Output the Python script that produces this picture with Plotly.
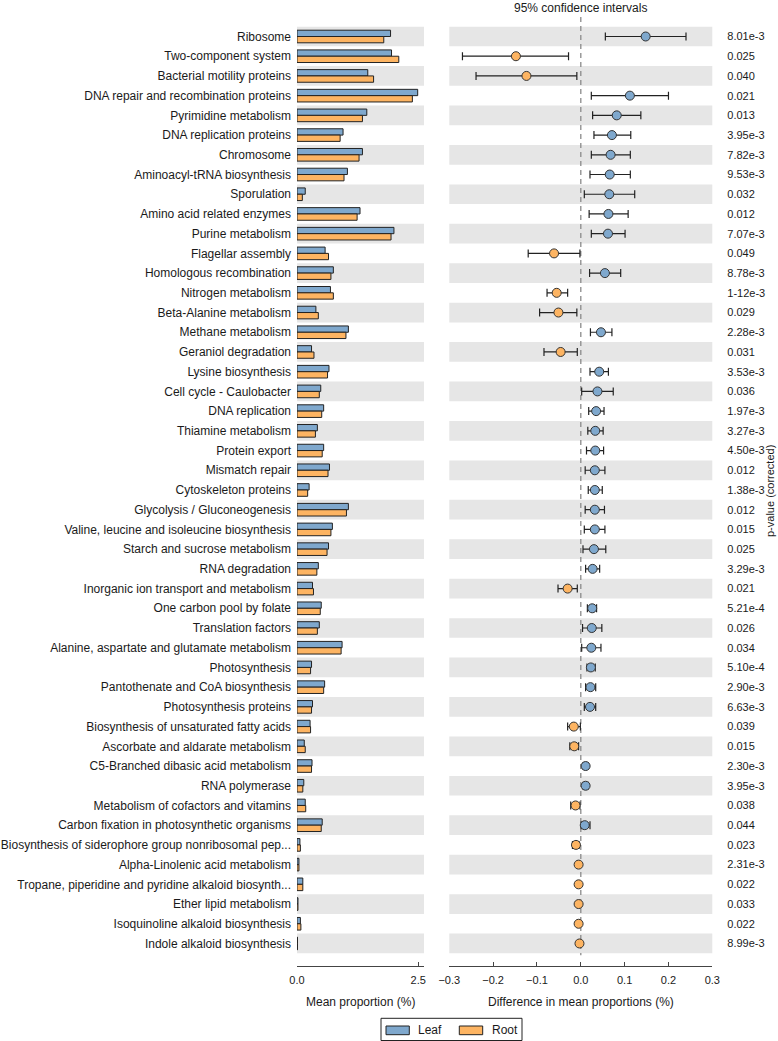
import plotly.graph_objects as go

W, H = 778, 1041

pathways = ["Ribosome", "Two-component system", "Bacterial motility proteins",
            "DNA repair and recombination proteins", "Pyrimidine metabolism",
            "DNA replication proteins", "Chromosome", "Aminoacyl-tRNA biosynthesis",
            "Sporulation", "Amino acid related enzymes", "Purine metabolism",
            "Flagellar assembly", "Homologous recombination", "Nitrogen metabolism",
            "Beta-Alanine metabolism", "Methane metabolism", "Geraniol degradation",
            "Lysine biosynthesis", "Cell cycle - Caulobacter", "DNA replication",
            "Thiamine metabolism", "Protein export", "Mismatch repair",
            "Cytoskeleton proteins", "Glycolysis / Gluconeogenesis",
            "Valine, leucine and isoleucine biosynthesis", "Starch and sucrose metabolism",
            "RNA degradation", "Inorganic ion transport and metabolism",
            "One carbon pool by folate", "Translation factors",
            "Alanine, aspartate and glutamate metabolism", "Photosynthesis",
            "Pantothenate and CoA biosynthesis", "Photosynthesis proteins",
            "Biosynthesis of unsaturated fatty acids", "Ascorbate and aldarate metabolism",
            "C5-Branched dibasic acid metabolism", "RNA polymerase",
            "Metabolism of cofactors and vitamins", "Carbon fixation in photosynthetic organisms",
            "Biosynthesis of siderophore group nonribosomal pep...",
            "Alpha-Linolenic acid metabolism",
            "Tropane, piperidine and pyridine alkaloid biosynth...",
            "Ether lipid metabolism", "Isoquinoline alkaloid biosynthesis",
            "Indole alkaloid biosynthesis"]

leaf_mean = [1.93, 1.95, 1.46, 2.49, 1.44, 0.95, 1.35, 1.04, 0.17, 1.30, 2.00, 0.58,
             0.75, 0.69, 0.39, 1.06, 0.30, 0.66, 0.49, 0.55, 0.42, 0.55, 0.67, 0.25,
             1.06, 0.73, 0.65, 0.44, 0.32, 0.50, 0.46, 0.93, 0.30, 0.57, 0.32, 0.27,
             0.15, 0.31, 0.14, 0.17, 0.52, 0.06, 0.04, 0.12, 0.02, 0.07, 0.01]
root_mean = [1.79, 2.10, 1.58, 2.38, 1.35, 0.89, 1.28, 0.97, 0.11, 1.24, 1.94, 0.65,
             0.70, 0.75, 0.44, 1.01, 0.35, 0.63, 0.46, 0.51, 0.38, 0.52, 0.64, 0.22,
             1.02, 0.70, 0.62, 0.41, 0.34, 0.48, 0.42, 0.91, 0.28, 0.55, 0.30, 0.28,
             0.17, 0.30, 0.12, 0.18, 0.50, 0.07, 0.04, 0.12, 0.02, 0.08, 0.01]

diff = [0.148, -0.148, -0.124, 0.112, 0.082, 0.071, 0.068, 0.066, 0.065, 0.063, 0.062,
        -0.061, 0.055, -0.055, -0.051, 0.046, -0.046, 0.042, 0.038, 0.035, 0.033, 0.033,
        0.032, 0.032, 0.032, 0.032, 0.030, 0.027, -0.030, 0.026, 0.025, 0.024, 0.023,
        0.022, 0.021, -0.016, -0.015, 0.011, 0.011, -0.012, 0.009, -0.011, -0.005,
        -0.005, -0.005, -0.005, -0.003]
ci_low = [0.056, -0.270, -0.239, 0.024, 0.027, 0.030, 0.024, 0.021, 0.008, 0.019, 0.024,
          -0.120, 0.020, -0.077, -0.094, 0.022, -0.084, 0.021, 0.002, 0.018, 0.016, 0.013,
          0.010, 0.017, 0.010, 0.008, 0.005, 0.011, -0.052, 0.015, 0.004, 0.002, 0.014,
          0.011, 0.008, -0.030, -0.025, 0.005, 0.005, -0.023, 0.001, -0.019, -0.008,
          -0.008, -0.008, -0.008, -0.005]
ci_high = [0.240, -0.028, -0.009, 0.200, 0.137, 0.114, 0.113, 0.113, 0.123, 0.108, 0.101,
           -0.002, 0.091, -0.030, -0.009, 0.071, -0.008, 0.063, 0.074, 0.053, 0.051, 0.052,
           0.055, 0.049, 0.054, 0.055, 0.057, 0.043, -0.008, 0.036, 0.048, 0.046, 0.033,
           0.034, 0.034, -0.001, -0.005, 0.017, 0.017, -0.002, 0.021, -0.004, -0.002,
           -0.002, -0.002, -0.002, -0.001]

p_values = ["8.01e-3", "0.025", "0.040", "0.021", "0.013", "3.95e-3", "7.82e-3", "9.53e-3",
            "0.032", "0.012", "7.07e-3", "0.049", "8.78e-3", "1-12e-3", "0.029", "2.28e-3",
            "0.031", "3.53e-3", "0.036", "1.97e-3", "3.27e-3", "4.50e-3", "0.012", "1.38e-3",
            "0.012", "0.015", "0.025", "3.29e-3", "0.021", "5.21e-4", "0.026", "0.034",
            "5.10e-4", "2.90e-3", "6.63e-3", "0.039", "0.015", "2.30e-3", "3.95e-3", "0.038",
            "0.044", "0.023", "2.31e-3", "0.022", "0.033", "0.022", "8.99e-3"]

groups = ["Leaf", "Root"]

left_ticks = [0.0, 2.5]
left_ticktext = ["0.0", "2.5"]
right_ticks = [-0.3, -0.2, -0.1, 0.0, 0.1, 0.2, 0.3]
right_ticktext = ["\u22120.3", "\u22120.2", "\u22120.1", "0.0", "0.1", "0.2", "0.3"]

n = len(pathways)
rows = list(range(n))

LEAF = "#7fa8cd"
ROOT = "#fdb462"
EDGE = "#222222"
STRIPE = "#e6e6e6"
FONT = "Liberation Sans, Arial, Helvetica, sans-serif"
TXT = "#1a1a1a"

def px_x(p):
    return p / W

def px_y(p):
    return 1 - p / H

fig = go.Figure()

bw = 0.32
fig.add_trace(go.Bar(x=leaf_mean, y=rows, orientation="h", name=groups[0],
                     marker=dict(color=LEAF, line=dict(color=EDGE, width=1)),
                     width=bw, offset=-bw, xaxis="x", yaxis="y", showlegend=False))
fig.add_trace(go.Bar(x=root_mean, y=rows, orientation="h", name=groups[1],
                     marker=dict(color=ROOT, line=dict(color=EDGE, width=1)),
                     width=bw, offset=0, xaxis="x", yaxis="y", showlegend=False))

dot_colors = [LEAF if d > 0 else ROOT for d in diff]
err_plus = [h - d for h, d in zip(ci_high, diff)]
err_minus = [d - l for d, l in zip(diff, ci_low)]
fig.add_trace(go.Scatter(x=diff, y=rows, mode="markers", showlegend=False,
                         marker=dict(color=dot_colors, size=9,
                                     line=dict(color="#333333", width=1)),
                         error_x=dict(type="data", array=err_plus, arrayminus=err_minus,
                                      color="#222222", thickness=1.2, width=4),
                         xaxis="x2", yaxis="y2"))

y_top_px, y_bot_px = 17, 966
row0_px, rowsp = 36.5, 19.717
yr_top = -(row0_px - y_top_px) / rowsp
yr_bot = (y_bot_px - row0_px) / rowsp
ydom = [px_y(y_bot_px), px_y(y_top_px)]

shapes = []
for i in rows:
    if i % 2 == 0:
        for xr in ["x domain", "x2 domain"]:
            shapes.append(dict(type="rect", xref=xr, yref="y", x0=0, x1=1,
                               y0=i - 0.5, y1=i + 0.5, fillcolor=STRIPE,
                               line=dict(width=0), layer="below"))
shapes.append(dict(type="line", xref="x2", yref="y", x0=0, x1=0,
                   y0=yr_top, y1=n - 0.4,
                   line=dict(color="#8a8a8a", width=1.3, dash="5px,4px"), layer="below"))

# legend (box, patches, labels)
shapes.append(dict(type="rect", xref="paper", yref="paper",
                   x0=px_x(381), x1=px_x(522), y0=px_y(1040.5), y1=px_y(1018.3),
                   fillcolor="white", line=dict(color="#222222", width=1)))
legend_patch_x = [(386, 409.3), (459.3, 482.7)]
legend_text_x = [416, 489.5]
legend_colors = [LEAF, ROOT]
legend_annots = []
for g, (a, b), tx, c in zip(groups, legend_patch_x, legend_text_x, legend_colors):
    shapes.append(dict(type="rect", xref="paper", yref="paper",
                       x0=px_x(a), x1=px_x(b), y0=px_y(1034.7), y1=px_y(1026),
                       fillcolor=c, line=dict(color="#222222", width=1)))
    legend_annots.append(dict(text=g, xref="paper", yref="paper", x=px_x(tx),
                              y=px_y(1030.3), xanchor="left", yanchor="middle",
                              showarrow=False,
                              font=dict(family=FONT, size=12, color=TXT)))

axis_common = dict(showgrid=False, zeroline=False, showline=True, linecolor="#444444",
                   linewidth=1, ticks="inside", ticklen=4, tickcolor="#444444",
                   ticklabelstandoff=4,
                   tickfont=dict(family=FONT, size=11, color=TXT), automargin=False,
                   fixedrange=True)

fig.update_layout(
    width=W, height=H, template="none",
    paper_bgcolor="white", plot_bgcolor="white",
    margin=dict(l=0, r=0, t=0, b=0),
    barmode="overlay",
    showlegend=False,
    font=dict(family=FONT, size=12, color=TXT),
    xaxis=dict(domain=[px_x(297), px_x(424)], range=[0, 2.62], anchor="y",
               tickvals=left_ticks, ticktext=left_ticktext, **axis_common),
    xaxis2=dict(domain=[px_x(449.3), px_x(712.3)], range=[-0.3, 0.3], anchor="y2",
                tickvals=right_ticks, ticktext=right_ticktext, **axis_common),
    yaxis=dict(domain=ydom, range=[yr_bot, yr_top], anchor="x", showgrid=False,
               zeroline=False, showline=False, tickvals=rows, ticktext=pathways,
               ticks="", ticklabelstandoff=5,
               tickfont=dict(family=FONT, size=12, color=TXT), automargin=False,
               fixedrange=True),
    yaxis2=dict(domain=ydom, range=[yr_bot, yr_top], anchor="x2", side="right",
                showgrid=False, zeroline=False, showline=False, tickvals=rows,
                ticktext=p_values, ticks="", ticklabelstandoff=14,
                tickfont=dict(family=FONT, size=11, color=TXT), automargin=False,
                fixedrange=True),
    shapes=shapes,
    annotations=[
        dict(text="95% confidence intervals", xref="paper", yref="paper",
             x=px_x(580.8), y=px_y(7.5), xanchor="center", yanchor="middle",
             showarrow=False, font=dict(family=FONT, size=12, color=TXT)),
        dict(text="Mean proportion (%)", xref="paper", yref="paper",
             x=px_x(360), y=px_y(1002), xanchor="center", yanchor="middle",
             showarrow=False, font=dict(family=FONT, size=12, color=TXT)),
        dict(text="Difference in mean proportions (%)", xref="paper", yref="paper",
             x=px_x(580.8), y=px_y(1002), xanchor="center", yanchor="middle",
             showarrow=False, font=dict(family=FONT, size=12, color=TXT)),
        dict(text="p-value (corrected)", xref="paper", yref="paper",
             x=px_x(770), y=px_y(491), xanchor="center", yanchor="middle",
             textangle=-90, showarrow=False, font=dict(family=FONT, size=11, color=TXT)),
    ] + legend_annots,
)

fig.write_html("out.html", config={"displayModeBar": False},
               post_script="document.body.style.margin='0';"
                           "document.documentElement.style.overflow='hidden';")
